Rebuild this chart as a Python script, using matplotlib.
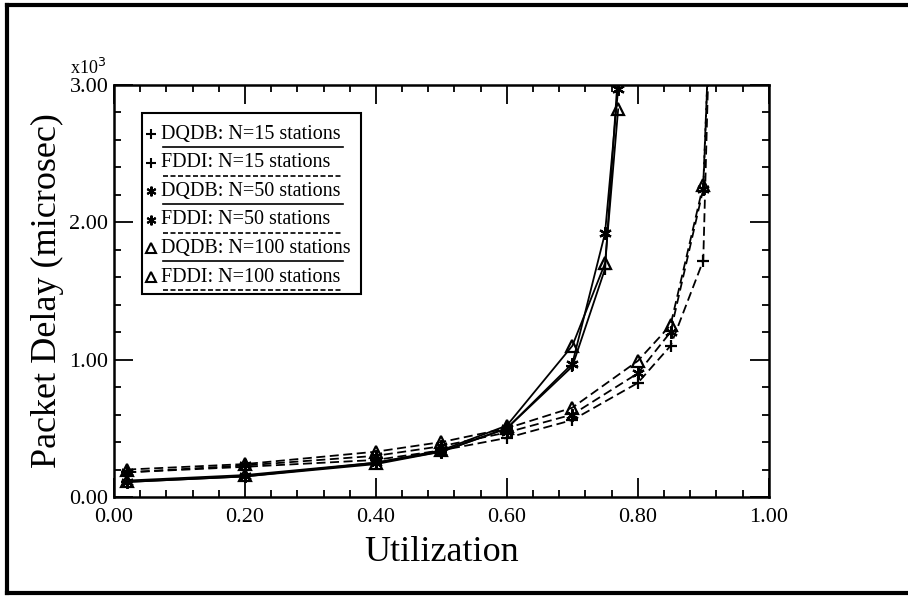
import matplotlib
matplotlib.use("Agg")
import matplotlib.pyplot as plt
from matplotlib.lines import Line2D
from matplotlib.ticker import MultipleLocator

plt.rcParams['font.family'] = ['Liberation Serif', 'DejaVu Serif']

# utilization points
x_dqdb = [0.02, 0.20, 0.40, 0.50, 0.60, 0.70, 0.75, 0.77]
x_fddi = [0.02, 0.20, 0.40, 0.50, 0.60, 0.70, 0.80, 0.85, 0.90, 0.91]

# packet delay, x10^3 microsec
dqdb_15 = [0.11, 0.15, 0.24, 0.33, 0.50, 0.95, 1.66, 3.10]
dqdb_50 = [0.11, 0.15, 0.25, 0.33, 0.50, 0.97, 1.92, 2.97]
dqdb_100 = [0.12, 0.16, 0.25, 0.34, 0.52, 1.10, 1.70, 2.82]
fddi_15 = [0.18, 0.22, 0.27, 0.34, 0.43, 0.56, 0.83, 1.10, 1.72, 3.50]
fddi_50 = [0.18, 0.23, 0.30, 0.37, 0.47, 0.60, 0.90, 1.20, 2.24, 3.50]
fddi_100 = [0.20, 0.24, 0.33, 0.40, 0.50, 0.65, 0.99, 1.25, 2.27, 3.50]

labels = ["DQDB: N=15 stations", "FDDI: N=15 stations",
          "DQDB: N=50 stations", "FDDI: N=50 stations",
          "DQDB: N=100 stations", "FDDI: N=100 stations"]

asterisk = (6, 2, 0)
series = [
    (x_dqdb, dqdb_15, '+', '-'),
    (x_fddi, fddi_15, '+', '--'),
    (x_dqdb, dqdb_50, asterisk, '-'),
    (x_fddi, fddi_50, asterisk, '--'),
    (x_dqdb, dqdb_100, '^', '-'),
    (x_fddi, fddi_100, '^', '--'),
]

fig = plt.figure(figsize=(9.08, 5.96), dpi=100)
ax = fig.add_axes([0.1256, 0.166, 0.721, 0.692])

for xs, ys, mk, ls in series:
    dash = (0, (5, 2.5)) if ls == '--' else '-'
    ax.plot(xs, ys, color='black', linestyle=dash, linewidth=1.3,
            marker=mk, markersize=9, markerfacecolor='none',
            markeredgecolor='black', markeredgewidth=1.6)

ax.set_xlim(0, 1.0)
ax.set_ylim(0, 3.0)
ax.xaxis.set_minor_locator(MultipleLocator(0.04))
ax.yaxis.set_minor_locator(MultipleLocator(0.2))
ax.set_xticks([0, 0.2, 0.4, 0.6, 0.8, 1.0])
ax.set_xticklabels(["0.00", "0.20", "0.40", "0.60", "0.80", "1.00"])
ax.set_yticks([0, 1, 2, 3])
ax.set_yticklabels(["0.00", "1.00", "2.00", "3.00"])
ax.tick_params(which='both', direction='in', top=True, right=True,
               labelsize=16, width=1.3)
ax.tick_params(which='major', length=14)
ax.tick_params(which='minor', length=5)
ax.tick_params(axis='x', which='major', pad=8)
ax.tick_params(axis='y', which='major', pad=4)
for sp in ax.spines.values():
    sp.set_linewidth(1.8)

ax.set_xlabel("Utilization", fontsize=26, labelpad=6)
ax.set_ylabel("Packet Delay (microsec)", fontsize=26, labelpad=4)
fig.text(0.077, 0.875, "x10$^3$", fontsize=13)

# legend box drawn by hand: marker, text and a line sample under each entry
lx0, lx1 = 142, 361
ly0, ly1 = 113, 294
box = plt.Rectangle((lx0 / 908, 1 - ly1 / 596), (lx1 - lx0) / 908,
                    (ly1 - ly0) / 596, transform=fig.transFigure,
                    fill=False, edgecolor='black', linewidth=1.5)
fig.add_artist(box)
for i, (lab, (xs, ys, mk, ls)) in enumerate(zip(labels, series)):
    yc = 134 + i * 28.6
    fig.add_artist(Line2D([151 / 908], [1 - yc / 596], marker=mk,
                          markersize=7, markerfacecolor='none',
                          markeredgecolor='black', markeredgewidth=1.5,
                          transform=fig.transFigure))
    fig.text(161 / 908, 1 - yc / 596, lab, fontsize=14.5, va='center')
    yl = 1 - (yc + 13) / 596
    dash = (0, (3, 1.5)) if ls == '--' else '-'
    fig.add_artist(Line2D([163 / 908, 343 / 908], [yl, yl], color='black',
                          linestyle=dash, linewidth=1.2,
                          transform=fig.transFigure))

# outer frame (left, top, bottom)
for xs, ys in [([7, 7], [5, 593]), ([7, 908], [5, 5]), ([7, 908], [593, 593])]:
    fig.add_artist(Line2D([v / 908 for v in xs], [1 - v / 596 for v in ys],
                          color='black', linewidth=3,
                          transform=fig.transFigure))

fig.savefig("out.png", dpi=100)
